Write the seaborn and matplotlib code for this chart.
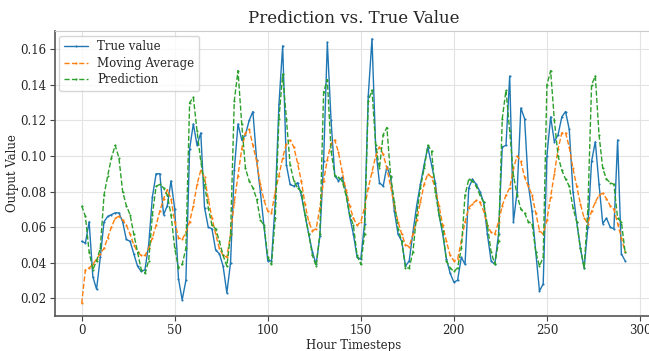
import numpy as np
import pandas as pd
import matplotlib
matplotlib.use("Agg")
import matplotlib.pyplot as plt
import seaborn as sns

# ------------------------------------------------------------
# Values (every 2nd hour timestep)
# ------------------------------------------------------------
timesteps = list(range(0, 293, 2))

true_value = [
    0.052, 0.051, 0.063, 0.032, 0.025, 0.043, 0.063, 0.066, 0.067, 0.068,
    0.068, 0.063, 0.053, 0.052, 0.045, 0.038, 0.035, 0.036, 0.050, 0.077,
    0.090, 0.090, 0.067, 0.072, 0.086, 0.070, 0.031, 0.019, 0.030, 0.104,
    0.118, 0.106, 0.113, 0.071, 0.060, 0.059, 0.047, 0.045, 0.038, 0.023,
    0.040, 0.092, 0.118, 0.109, 0.112, 0.120, 0.125, 0.098, 0.080, 0.060,
    0.041, 0.041, 0.074, 0.129, 0.162, 0.095, 0.084, 0.083, 0.085, 0.078,
    0.067, 0.056, 0.046, 0.039, 0.055, 0.097, 0.164, 0.120, 0.089, 0.086,
    0.088, 0.080, 0.066, 0.056, 0.043, 0.042, 0.062, 0.134, 0.166, 0.104,
    0.085, 0.083, 0.094, 0.088, 0.069, 0.056, 0.052, 0.038, 0.041, 0.057,
    0.072, 0.084, 0.095, 0.105, 0.095, 0.085, 0.067, 0.056, 0.042, 0.034,
    0.029, 0.030, 0.043, 0.039, 0.082, 0.087, 0.084, 0.080, 0.074, 0.056,
    0.041, 0.039, 0.056, 0.105, 0.106, 0.145, 0.063, 0.080, 0.127, 0.121,
    0.084, 0.069, 0.046, 0.024, 0.028, 0.100, 0.122, 0.108, 0.112, 0.122,
    0.125, 0.115, 0.080, 0.063, 0.048, 0.037, 0.060, 0.097, 0.108, 0.084,
    0.062, 0.065, 0.060, 0.059, 0.109, 0.045, 0.041,
]

moving_average = [
    0.017, 0.036, 0.037, 0.039, 0.042, 0.045, 0.048, 0.054, 0.060, 0.065,
    0.066, 0.064, 0.061, 0.056, 0.050, 0.046, 0.044, 0.044, 0.048, 0.054,
    0.061, 0.069, 0.076, 0.081, 0.076, 0.063, 0.054, 0.053, 0.057, 0.063,
    0.072, 0.084, 0.092, 0.088, 0.076, 0.065, 0.056, 0.048, 0.044, 0.043,
    0.056, 0.074, 0.089, 0.104, 0.113, 0.115, 0.106, 0.097, 0.084, 0.075,
    0.069, 0.068, 0.080, 0.089, 0.099, 0.107, 0.109, 0.105, 0.096, 0.086,
    0.073, 0.063, 0.058, 0.059, 0.071, 0.086, 0.098, 0.107, 0.109, 0.102,
    0.091, 0.081, 0.072, 0.065, 0.061, 0.063, 0.071, 0.082, 0.091, 0.100,
    0.105, 0.101, 0.093, 0.083, 0.072, 0.063, 0.056, 0.050, 0.049, 0.056,
    0.064, 0.074, 0.084, 0.090, 0.088, 0.082, 0.072, 0.061, 0.052, 0.044,
    0.041, 0.042, 0.052, 0.063, 0.071, 0.073, 0.075, 0.074, 0.069, 0.061,
    0.057, 0.056, 0.063, 0.072, 0.078, 0.082, 0.093, 0.100, 0.097, 0.088,
    0.083, 0.078, 0.068, 0.058, 0.056, 0.064, 0.077, 0.090, 0.104, 0.113,
    0.113, 0.105, 0.093, 0.083, 0.073, 0.065, 0.062, 0.069, 0.074, 0.078,
    0.079, 0.076, 0.072, 0.070, 0.062, 0.054, 0.046,
]

prediction = [
    0.072, 0.066, 0.046, 0.036, 0.041, 0.048, 0.078, 0.089, 0.099, 0.106,
    0.099, 0.080, 0.072, 0.067, 0.056, 0.046, 0.036, 0.034, 0.041, 0.067,
    0.083, 0.084, 0.082, 0.078, 0.067, 0.048, 0.037, 0.039, 0.048, 0.130,
    0.133, 0.114, 0.097, 0.084, 0.071, 0.061, 0.059, 0.052, 0.044, 0.038,
    0.056, 0.131, 0.148, 0.118, 0.093, 0.086, 0.082, 0.076, 0.064, 0.061,
    0.043, 0.039, 0.065, 0.121, 0.146, 0.121, 0.095, 0.086, 0.082, 0.080,
    0.067, 0.056, 0.044, 0.038, 0.056, 0.136, 0.143, 0.103, 0.089, 0.088,
    0.086, 0.078, 0.067, 0.061, 0.044, 0.039, 0.056, 0.131, 0.137, 0.106,
    0.093, 0.112, 0.116, 0.089, 0.074, 0.059, 0.052, 0.037, 0.037, 0.046,
    0.067, 0.082, 0.093, 0.106, 0.103, 0.080, 0.067, 0.058, 0.041, 0.037,
    0.035, 0.037, 0.048, 0.078, 0.087, 0.086, 0.083, 0.078, 0.074, 0.061,
    0.046, 0.039, 0.052, 0.121, 0.137, 0.114, 0.089, 0.078, 0.070, 0.068,
    0.063, 0.062, 0.046, 0.038, 0.043, 0.140, 0.148, 0.120, 0.100, 0.092,
    0.087, 0.083, 0.071, 0.063, 0.048, 0.037, 0.070, 0.140, 0.145, 0.112,
    0.093, 0.087, 0.085, 0.084, 0.065, 0.063, 0.046,
]

df = pd.DataFrame({
    "step": timesteps,
    "True value": true_value,
    "Moving Average": moving_average,
    "Prediction": prediction,
})

# ------------------------------------------------------------
# Plot
# ------------------------------------------------------------
sns.set_style("whitegrid")
plt.rcParams["font.family"] = ["DejaVu Serif"]

fig = plt.figure(figsize=(6.49, 3.51), dpi=100)
# right edge of the axes runs slightly past the canvas, as in the reference crop
ax = fig.add_axes([0.084, 0.100, 0.921, 0.812])

sns.lineplot(data=df, x="step", y="True value", ax=ax, label="True value",
             color="#1f77b4", linestyle="-", marker=".", markersize=3,
             markeredgewidth=0, linewidth=1.0)
sns.lineplot(data=df, x="step", y="Moving Average", ax=ax, label="Moving Average",
             color="#ff7f0e", linestyle="--", marker=".", markersize=3,
             markeredgewidth=0, linewidth=1.0)
sns.lineplot(data=df, x="step", y="Prediction", ax=ax, label="Prediction",
             color="#2ca02c", linestyle="--", marker=".", markersize=3,
             markeredgewidth=0, linewidth=1.0)

ax.set_xlim(-14.6, 306.6)
ax.set_ylim(0.010, 0.1704)
ax.set_xticks([0, 50, 100, 150, 200, 250, 300])
ax.set_yticks([0.02, 0.04, 0.06, 0.08, 0.10, 0.12, 0.14, 0.16])
ax.set_yticklabels(["0.02", "0.04", "0.06", "0.08", "0.10", "0.12", "0.14", "0.16"])

ax.set_title("Prediction vs. True Value", fontsize=12, pad=6)
ax.set_xlabel("Hour Timesteps", fontsize=8.5, labelpad=1)
ax.set_ylabel("Output Value", fontsize=8.5, labelpad=1)
ax.tick_params(axis="both", labelsize=8.5, length=3.5, width=0.8,
               color="#444444", pad=2.5)
ax.tick_params(axis="x", bottom=True)
ax.tick_params(axis="y", left=True)

ax.grid(color="#e3e3e3", linewidth=0.8)
for side in ["left", "bottom"]:
    ax.spines[side].set_color("#555555")
    ax.spines[side].set_linewidth(1.2)
for side in ["top", "right"]:
    ax.spines[side].set_color("#cccccc")

ax.legend(loc="upper left", fontsize=8.5, frameon=True, borderaxespad=0.4,
          handlelength=2.0, labelspacing=0.3)

fig.savefig("out.png", dpi=100)
